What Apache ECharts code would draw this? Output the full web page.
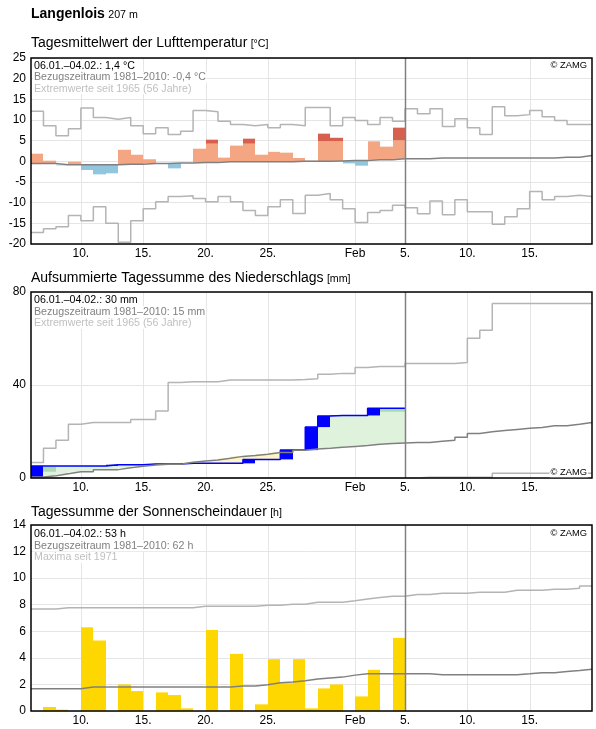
<!DOCTYPE html>
<html><head><meta charset="utf-8">
<script src="https://cdn.jsdelivr.net/npm/echarts@6/dist/echarts.min.js"></script>
<style>html,body{margin:0;padding:0;background:#fff}#c{width:596px;height:729px}</style>
</head><body><div id="c"></div>
<script>
const FONT = '"Liberation Sans", Arial, sans-serif';
// x = day index, 0 = 06.01., 45 = 20.02.
const xTickDays = [4, 9, 14, 19, 26, 30, 35, 40];
const xTickLabels = ['10.', '15.', '20.', '25.', 'Feb', '5.', '10.', '15.'];
const todayDay = 30;

// Panel 1: air temperature [°C]
const tempMean = [1.85, 0.16, -0.97, -0.1, -2.1, -3.15, -2.9, 2.8, 1.6, 0.5, -0.5, -1.7, -0.4, 3.06, 5.24, 0.9, 3.8, 5.48, 1.6, 2.3, 2.1, 0.8, 0.16, 6.7, 5.7, -0.5, -1.05, 4.84, 3.55, 8.15];
const tempHighLimit = [null, null, null, null, null, null, null, null, null, null, null, null, null, null, 4.27, null, null, 4.27, null, null, null, null, null, 4.84, 4.84, null, null, null, null, 5.08];
const tempRef = [-0.5, -0.5, -0.8, -0.8, -0.8, -0.8, -0.8, -0.7, -0.7, -0.5, -0.5, -0.4, -0.4, -0.3, -0.3, -0.1, -0.1, -0.1, -0.1, -0.1, -0.1, 0.0, 0.0, 0.0, 0.1, 0.2, 0.2, 0.4, 0.4, 0.6, 0.65, 0.65, 0.8, 0.8, 0.8, 0.8, 0.8, 0.8, 0.8, 0.8, 0.8, 0.8, 1.0, 1.0, 1.4];
const tempMax = [12.1, 8.6, 6.2, 7.9, 12.9, 10.6, 10.2, 10.6, 8.6, 6.7, 8.1, 6.5, 7.3, 12.3, 12.0, 9.7, 8.9, 8.6, 8.9, 8.1, 8.9, 8.6, 13.0, 13.0, 8.6, 10.6, 9.9, 8.9, 10.6, 9.7, 12.7, 11.5, 12.7, 8.4, 10.3, 8.1, 6.5, 13.2, 11.0, 11.3, 12.3, 10.8, 9.9, 8.9, 8.9];
const tempMin = [-17.2, -16.3, -15.8, -13.1, -14.4, -11.0, -15.0, -19.6, -14.4, -11.5, -9.8, -8.5, -8.3, -9.0, -9.8, -8.5, -9.8, -11.9, -13.1, -11.0, -9.3, -12.6, -8.2, -7.8, -9.3, -11.5, -14.8, -12.4, -11.9, -10.6, -11.2, -12.7, -9.6, -12.9, -9.3, -12.2, -12.2, -15.2, -13.4, -11.5, -7.3, -9.3, -8.5, -8.2, -8.5];

// Panel 2: cumulative precipitation [mm]
const precipCumObs = [5.2, 5.2, 5.2, 5.2, 5.2, 5.2, 5.7, 5.7, 5.7, 6.0, 6.0, 6.0, 6.3, 6.3, 6.3, 6.3, 6.3, 8.0, 8.0, 8.0, 12.0, 12.0, 21.9, 26.7, 26.9, 26.9, 26.9, 30.0, 30.0, 30.0];
const precipBandLo = [null, 2.7, null, null, null, null, null, null, null, null, null, null, null, null, null, null, null, null, null, null, null, null, null, null, null, null, null, null, 28.5, 28.5];
const precipBandHi = [null, 4.9, null, null, null, null, null, null, null, null, null, null, null, null, null, null, null, null, null, null, null, null, null, null, null, null, null, null, 29.7, 29.7];
const precipCumRef = [0.4, 1.0, 1.85, 2.7, 2.7, 3.6, 3.6, 4.4, 5.1, 5.6, 5.9, 5.9, 6.75, 7.3, 7.7, 8.45, 9.3, 9.7, 10.2, 11.0, 11.0, 11.9, 12.5, 12.8, 13.2, 13.6, 14.0, 14.5, 14.8, 15.05, 15.3, 15.3, 15.8, 16.2, 17.5, 19.1, 19.9, 20.4, 20.9, 21.4, 21.7, 22.5, 22.5, 23.1, 23.9];
const precipCumMax = [6.7, 12.8, 16.2, 23.1, 23.9, 23.9, 23.9, 23.9, 25.2, 25.2, 28.8, 41.1, 41.4, 41.4, 41.4, 42.2, 42.2, 42.2, 42.2, 42.2, 42.2, 42.4, 42.7, 44.6, 45.0, 45.0, 47.5, 48.0, 48.0, 48.0, 49.3, 49.3, 49.3, 49.3, 49.7, 60.1, 63.5, 75.1, 75.1, 75.1, 75.1, 75.1, 75.1, 75.1, 75.1];
const precipCumMin = [0, 0, 0, 0, 0, 0, 0, 0, 0, 0, 0, 0, 0, 0, 0, 0, 0, 0, 0, 0, 0, 0, 0, 0, 0, 0, 0, 0, 0, 0, 0, 0.3, 0.3, 0.3, 0.3, 0.3, 0.3, 2.0, 2.0, 2.0, 2.0, 2.0, 2.0, 2.0, 2.0];

// Panel 3: daily sunshine duration [h]
const sunDaily = [0, 0.3, 0.1, 0, 6.3, 5.3, 0, 2.0, 1.5, 0, 1.4, 1.2, 0.2, 0, 6.1, 0, 4.3, 0, 0.5, 3.9, 2.1, 3.9, 0.2, 1.7, 2.0, 0, 1.1, 3.1, 0, 5.5];
const sunRef = [1.68, 1.68, 1.68, 1.68, 1.8, 1.8, 1.8, 1.8, 1.8, 1.8, 1.8, 1.8, 1.8, 1.8, 1.8, 1.8, 1.88, 1.88, 1.98, 2.13, 2.18, 2.28, 2.4, 2.48, 2.55, 2.7, 2.8, 2.8, 2.8, 2.8, 2.8, 2.8, 2.73, 2.73, 2.73, 2.73, 2.73, 2.73, 2.73, 2.8, 2.88, 2.88, 2.98, 3.05, 3.15];
const sunMax = [7.68, 7.68, 7.78, 7.78, 7.78, 7.78, 7.78, 7.78, 7.78, 7.78, 7.78, 7.78, 7.78, 7.88, 7.88, 7.88, 7.88, 7.88, 7.96, 7.96, 8.04, 8.04, 8.18, 8.18, 8.18, 8.3, 8.43, 8.55, 8.63, 8.63, 8.76, 8.76, 8.86, 8.86, 8.86, 8.94, 8.94, 8.94, 9.09, 9.09, 9.09, 9.17, 9.17, 9.24, 9.41];

const C_EXT = '#b4b4b4', C_REF = '#808080', C_GRID = '#e5e5e5';

function stepPoints(arr) {
  const pts = arr.map((v, i) => [i, v]);
  pts.push([arr.length, arr[arr.length - 1]]);
  return pts;
}
function stepLine(g, arr, color, width, z) {
  return { type: 'line', xAxisIndex: g, yAxisIndex: g, data: stepPoints(arr), step: 'end',
    symbol: 'none', showSymbol: false, lineStyle: { color, width }, z, silent: true, animation: false, clip: true };
}
function rectSeries(g, data, color, z) {
  return { type: 'custom', xAxisIndex: g, yAxisIndex: g, data, z, silent: true, animation: false, clip: true,
    encode: { x: 0, y: [1, 2] },
    renderItem: (p, api) => {
      const a = api.coord([api.value(0), api.value(1)]);
      const b = api.coord([api.value(0) + 1, api.value(2)]);
      const x0 = Math.round(a[0]), x1 = Math.round(b[0]);
      return { type: 'rect', shape: { x: x0, y: Math.min(a[1], b[1]), width: x1 - x0, height: Math.abs(b[1] - a[1]) },
        style: { fill: color } };
    } };
}
function vLines(g, days, color, width, z) {
  return { type: 'custom', xAxisIndex: g, yAxisIndex: g, data: days.map(d => [d, 0]), z, silent: true, animation: false,
    encode: { x: 0, y: 1 },
    renderItem: (p, api) => {
      const x = Math.round(api.coord([api.value(0), 0])[0]) + 0.5;
      const cs = p.coordSys;
      return { type: 'line', shape: { x1: x, y1: cs.y, x2: x, y2: cs.y + cs.height }, style: { stroke: color, lineWidth: width } };
    } };
}

// temperature bar pieces
const tSalmon = [], tDark = [], tBlue = [];
tempMean.forEach((m, k) => {
  const r = tempRef[k], lim = tempHighLimit[k];
  if (m > r) {
    tSalmon.push([k, r, lim != null ? Math.min(m, lim) : m]);
    if (lim != null && m > lim) tDark.push([k, lim, m]);
  } else if (m < r) tBlue.push([k, m, r]);
});
// precipitation pieces
const pGreen = [], pYellow = [], pBand = [], pBlocks = [];
precipCumObs.forEach((o, k) => {
  const r = precipCumRef[k];
  if (o >= r) pGreen.push([k, r, o]); else pYellow.push([k, o, r]);
  if (precipBandLo[k] != null) pBand.push([k, precipBandLo[k], precipBandHi[k]]);
  const prev = k ? precipCumObs[k - 1] : 0;
  if (o > prev) pBlocks.push([k, prev, o]);
});
const sunBars = sunDaily.map((v, k) => [k, 0, v]).filter(d => d[2] > 0);

const tops = [58, 292, 525];
const grids = tops.map(t => ({ left: 31, right: 4, top: t, height: 186, show: true, borderColor: '#000', borderWidth: 1.5,
  backgroundColor: 'transparent', z: 10, containLabel: false, outerBoundsMode: 'none' }));
const xAxes = [0, 1, 2].map(g => ({ type: 'value', gridIndex: g, min: 0, max: 45, interval: 1,
  axisLine: { show: false }, axisTick: { show: false }, splitLine: { show: false },
  axisLabel: { color: '#000', fontSize: 12, fontFamily: FONT, margin: 4, showMinLabel: true, showMaxLabel: true,
    formatter: v => { const i = xTickDays.indexOf(v); return i >= 0 ? xTickLabels[i] : ''; } } }));
const yDefs = [[-20, 25, 5], [0, 80, 40], [0, 14, 2]];
const yAxes = yDefs.map((d, g) => ({ type: 'value', gridIndex: g, min: d[0], max: d[1], interval: d[2],
  axisLine: { show: false }, axisTick: { show: false },
  splitLine: { show: true, lineStyle: { color: C_GRID, width: 1 } },
  axisLabel: { color: '#000', fontSize: 12, fontFamily: FONT, margin: 5 } }));

const series = [
  vLines(0, xTickDays, C_GRID, 1, 1),
  rectSeries(0, tSalmon, '#f4a582', 2),
  rectSeries(0, tDark, '#d6604d', 2),
  rectSeries(0, tBlue, '#92c5de', 2),
  stepLine(0, tempMax, C_EXT, 1.5, 3),
  stepLine(0, tempMin, C_EXT, 1.5, 3),
  stepLine(0, tempRef, C_REF, 1.5, 4),
  vLines(0, [todayDay], C_REF, 1.5, 6),

  vLines(1, xTickDays, C_GRID, 1, 1),
  rectSeries(1, pGreen, '#dff2dc', 2),
  rectSeries(1, pYellow, '#fff5c2', 2),
  rectSeries(1, pBand, '#a8dab5', 2),
  rectSeries(1, pBlocks, '#0000ff', 3),
  { ...stepLine(1, precipCumObs, '#0000ff', 1.5, 3), data: stepPoints(precipCumObs) },
  stepLine(1, precipCumMax, C_EXT, 1.5, 3),
  stepLine(1, precipCumMin, C_EXT, 1.5, 3),
  stepLine(1, precipCumRef, C_REF, 1.5, 4),
  vLines(1, [todayDay], C_REF, 1.5, 6),

  vLines(2, xTickDays, C_GRID, 1, 1),
  rectSeries(2, sunBars, '#ffd700', 2),
  stepLine(2, sunMax, C_EXT, 1.5, 3),
  stepLine(2, sunRef, C_REF, 1.5, 4),
  vLines(2, [todayDay], C_REF, 1.5, 6)
];

const SMALL = 10.67;
function txt(x, y, text, color, size, opts) {
  return Object.assign({ type: 'text', x, y, z: 20, silent: true,
    style: { text, fill: color, font: size + 'px ' + FONT, verticalAlign: 'middle', align: 'left',
      backgroundColor: '#fff', padding: [0, 1] } }, opts || {});
}
function title(y, main, unit) {
  return { type: 'text', x: 31, y, z: 20, silent: true,
    style: { text: '{m|' + main + '} {u|' + unit + '}', verticalAlign: 'middle',
      rich: { m: { fontSize: 14, fontFamily: FONT, fill: '#000', verticalAlign: 'bottom' },
              u: { fontSize: SMALL, fontFamily: FONT, fill: '#000', verticalAlign: 'bottom' } } } };
}
const annot = [
  [65.8, ['06.01.–04.02.: 1,4 °C', 'Bezugszeitraum 1981–2010: -0,4 °C', 'Extremwerte seit 1965 (56 Jahre)']],
  [300.3, ['06.01.–04.02.: 30 mm', 'Bezugszeitraum 1981–2010: 15 mm', 'Extremwerte seit 1965 (56 Jahre)']],
  [534.2, ['06.01.–04.02.: 53 h', 'Bezugszeitraum 1981–2010: 62 h', 'Maxima seit 1971']]
];
const graphics = [
  { type: 'text', x: 31, y: 14, z: 20, silent: true,
    style: { text: '{b|Langenlois} {s|207 m}', verticalAlign: 'middle',
      rich: { b: { fontSize: 14, fontWeight: 'bold', fontFamily: FONT, fill: '#000', verticalAlign: 'bottom' },
              s: { fontSize: SMALL, fontFamily: FONT, fill: '#000', verticalAlign: 'bottom' } } } },
  title(43, 'Tagesmittelwert der Lufttemperatur', '[°C]'),
  title(278, 'Aufsummierte Tagessumme des Niederschlags', '[mm]'),
  title(512, 'Tagessumme der Sonnenscheindauer', '[h]')
];
annot.forEach(([y0, lines]) => {
  const cols = ['#000', '#808080', '#c0c0c0'];
  lines.forEach((t, i) => graphics.push(txt(33, y0 + i * 11.5, t, cols[i], SMALL)));
});
[[65, 0], [472.7, 0], [533, 0]].forEach(([y]) => {
  graphics.push({ type: 'text', x: 588, y, z: 20, silent: true,
    style: { text: '© ZAMG', fill: '#000', font: '9.33px ' + FONT, verticalAlign: 'middle', align: 'right',
      backgroundColor: '#fff', padding: [0, 1] } });
});

const chart = echarts.init(document.getElementById('c'), null, { renderer: 'canvas' });
chart.setOption({
  animation: false,
  backgroundColor: '#fff',
  textStyle: { fontFamily: FONT },
  grid: grids, xAxis: xAxes, yAxis: yAxes, series, graphic: graphics
});
</script></body></html>
